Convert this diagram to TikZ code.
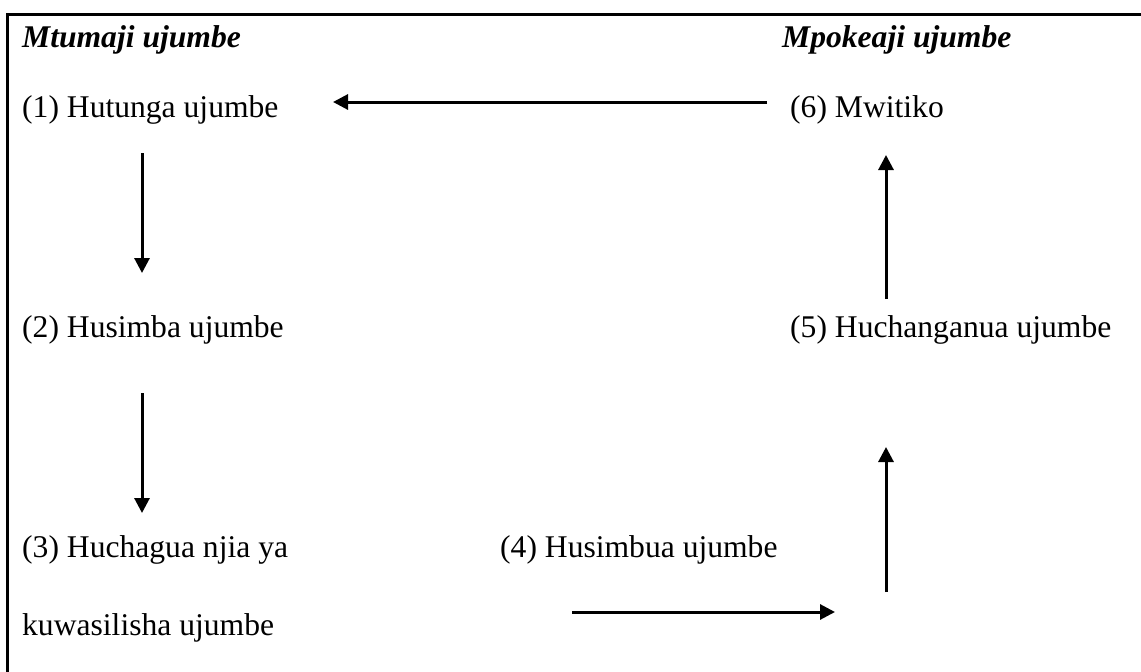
\documentclass[tikz,border=0pt]{standalone}
\usepackage{fontspec}
\setmainfont{Liberation Serif}
\usetikzlibrary{arrows.meta}
\tikzset{
  lbl/.style={anchor=base west, inner sep=0pt, font=\fontsize{31.6pt}{38pt}\selectfont},
  hdr/.style={lbl, font=\fontsize{31.6pt}{38pt}\selectfont\bfseries\itshape},
  flow/.style={line width=3pt, -{Triangle[length=15pt,width=15pt]}},
  frame/.style={line width=3pt}
}
\begin{document}
\begin{tikzpicture}[x=1pt,y=-1pt]
\useasboundingbox (0,0) rectangle (1141,672);
\draw[frame] (1141,14) -- (7,14) -- (7,672);
\node[hdr] (sender) at (22,47) {Mtumaji ujumbe};
\node[hdr] (receiver) at (782,47) {Mpokeaji ujumbe};
\node[lbl] (n1) at (22,117) {(1) Hutunga ujumbe};
\node[lbl] (n6) at (790,117) {(6) Mwitiko};
\node[lbl] (n2) at (22,337) {(2) Husimba ujumbe};
\node[lbl] (n5) at (790,337) {(5) Huchanganua ujumbe};
\node[lbl] (n3) at (22,557) {(3) Huchagua njia ya};
\node[lbl] (n3b) at (22,635) {kuwasilisha ujumbe};
\node[lbl] (n4) at (500,557) {(4) Husimbua ujumbe};
\coordinate (a61s) at (767,102);
\coordinate (a61e) at (333,102);
\coordinate (a12s) at (142,153);
\coordinate (a12e) at (142,273);
\coordinate (a23s) at (142,393);
\coordinate (a23e) at (142,513);
\coordinate (a34s) at (572,612);
\coordinate (a34e) at (835,612);
\coordinate (a45s) at (886,592);
\coordinate (a45e) at (886,447);
\coordinate (a56s) at (886,299);
\coordinate (a56e) at (886,155);
\draw[flow] (a61s) -- (a61e);
\draw[flow] (a12s) -- (a12e);
\draw[flow] (a23s) -- (a23e);
\draw[flow] (a34s) -- (a34e);
\draw[flow] (a45s) -- (a45e);
\draw[flow] (a56s) -- (a56e);
\end{tikzpicture}
\end{document}
